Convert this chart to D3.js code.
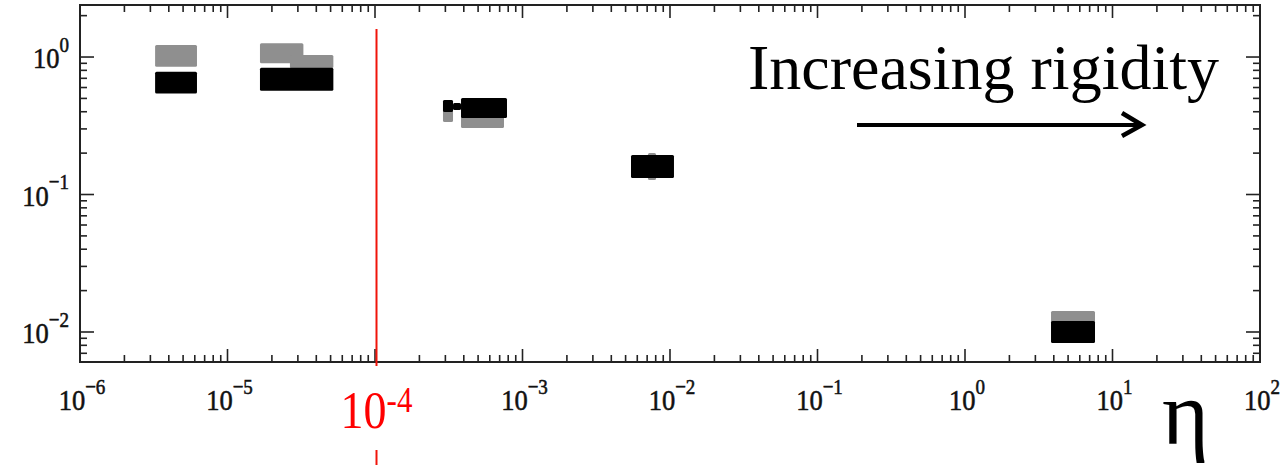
<!DOCTYPE html>
<html><head><meta charset="utf-8">
<script src="https://cdn.jsdelivr.net/npm/d3@7"></script>
<style>
html,body{margin:0;padding:0;background:#fff;}
svg{display:block;}
text{font-family:"Liberation Serif","Times New Roman",serif;}
</style></head>
<body>
<svg id="chart" width="1286" height="465"></svg>
<script>
// ---- data ----
const xDomain = [1e-6, 1e2];
const yDomain = [0.00605, 2.39];
const xTickExps = [-6, -5, -4, -3, -2, -1, 0, 1, 2];
const yTickExps = [-2, -1, 0];
const highlightExp = -4;            // red marked value of eta
const highlightLabel = ["10", "-4"];
// gray series boxes: [eta0, eta1, v0, v1]
const grayBoxes = [
  [3.23e-6, 6.21e-6, 0.850, 1.223],
  [1.66e-5, 3.27e-5, 0.900, 1.258],
  [2.65e-5, 5.22e-5, 0.828, 1.034],
  [2.89e-4, 3.38e-4, 0.337, 0.487],
  [3.83e-4, 7.49e-4, 0.3045, 0.433],
  [7.09e-3, 8.04e-3, 0.1275, 0.2003],
  [3.83, 7.61, 0.01017, 0.01421]
];
// black series boxes: [eta0, eta1, v0, v1]
const blackBoxes = [
  [3.23e-6, 6.21e-6, 0.544, 0.782],
  [1.66e-5, 5.22e-5, 0.569, 0.836],
  [2.89e-4, 3.38e-4, 0.398, 0.487],
  [3.38e-4, 3.83e-4, 0.412, 0.463],
  [3.83e-4, 7.85e-4, 0.360, 0.503],
  [5.44e-3, 1.064e-2, 0.1318, 0.1938],
  [3.83, 7.61, 0.00832, 0.01202]
];
const annotation = "Increasing rigidity";
const xAxisTitle = "η";

// ---- layout ----
const L = 80, R = 1260, T = 5, B = 362;
const svg = d3.select("#chart");
const x = d3.scaleLog().domain(xDomain).range([L, R]);
const y = d3.scaleLog().domain(yDomain).range([B, T]);

// boxes
function drawBoxes(data, color) {
  svg.append("g").selectAll("rect").data(data).join("rect")
    .attr("x", d => x(d[0])).attr("width", d => x(d[1]) - x(d[0]))
    .attr("y", d => y(d[3])).attr("height", d => y(d[2]) - y(d[3]))
    .attr("rx", 1.5)
    .attr("fill", color);
}
drawBoxes(grayBoxes, "#8f8f8f");
drawBoxes(blackBoxes, "#000");

// ticks
function minorVals(scale) {
  const [a, b] = scale.domain();
  const out = [];
  for (let e = Math.floor(Math.log10(a)); e <= Math.ceil(Math.log10(b)); e++) {
    for (let m = 1; m <= 9; m++) {
      const v = m * Math.pow(10, e);
      if (v >= a * 0.999 && v <= b * 1.001) out.push({v, major: m === 1});
    }
  }
  return out;
}
const ax = svg.append("g").attr("stroke", "#222").attr("stroke-width", 1.6);
minorVals(x).forEach(t => {
  const len = t.major ? 13 : 7;
  const px = x(t.v);
  ax.append("line").attr("x1", px).attr("x2", px).attr("y1", B).attr("y2", B - len);
  ax.append("line").attr("x1", px).attr("x2", px).attr("y1", T).attr("y2", T + len);
});
minorVals(y).forEach(t => {
  const len = t.major ? 14 : 7;
  const py = y(t.v);
  ax.append("line").attr("y1", py).attr("y2", py).attr("x1", L).attr("x2", L + len);
  ax.append("line").attr("y1", py).attr("y2", py).attr("x1", R).attr("x2", R - len);
});
svg.append("rect").attr("x", L).attr("y", T).attr("width", R - L).attr("height", B - T)
  .attr("fill", "none").attr("stroke", "#222").attr("stroke-width", 2);

// tick labels
function supLabel(g, base, sup, size, supSize, rise, anchor, color, sw) {
  const t = g.append("text").attr("text-anchor", anchor).attr("fill", color)
    .attr("stroke", color).attr("stroke-width", sw)
    .attr("font-size", size);
  t.append("tspan").text(base);
  t.append("tspan").attr("font-size", supSize).attr("dy", -rise).text(sup);
  return t;
}
xTickExps.filter(e => e !== highlightExp).forEach(e => {
  const g = svg.append("g").attr("transform", `translate(${x(Math.pow(10, e)) + 2},410) scale(1,1.15)`);
  supLabel(g, "10", e < 0 ? "−" + (-e) : String(e), 26.5, 19, 14, "middle", "#111", 0.5);
});
yTickExps.forEach(e => {
  const g = svg.append("g").attr("transform", `translate(69,${y(Math.pow(10, e)) + 11}) scale(1,1.15)`);
  supLabel(g, "10", e < 0 ? "−" + (-e) : String(e), 26.5, 19, 14, "end", "#111", 0.5);
});

// red highlight line and label
const hx = x(Math.pow(10, highlightExp)) + 1.5;
svg.append("line").attr("x1", hx).attr("x2", hx).attr("y1", 29).attr("y2", 366)
  .attr("stroke", "#f0140a").attr("stroke-width", 2);
svg.append("line").attr("x1", hx).attr("x2", hx).attr("y1", 450).attr("y2", 465)
  .attr("stroke", "#f0140a").attr("stroke-width", 2);
{
  const g = svg.append("g").attr("transform", `translate(${hx},428) scale(1,1.15)`);
  supLabel(g, highlightLabel[0], highlightLabel[1], 46, 31, 14, "middle", "#ff0000", 0);
}

// annotation and arrow
svg.append("text").attr("x", 748).attr("y", 89).attr("font-size", 64).attr("fill", "#000")
  .text(annotation);
svg.append("line").attr("x1", 857).attr("x2", 1140).attr("y1", 125).attr("y2", 125)
  .attr("stroke", "#000").attr("stroke-width", 4);
svg.append("path").attr("d", "M1122,113 L1142,125 L1122,136")
  .attr("fill", "none").attr("stroke", "#000").attr("stroke-width", 4.5);

// axis title
svg.append("text").attr("x", 1162).attr("y", 444).attr("font-size", 90).attr("fill", "#000")
  .text(xAxisTitle);
</script>
</body></html>
